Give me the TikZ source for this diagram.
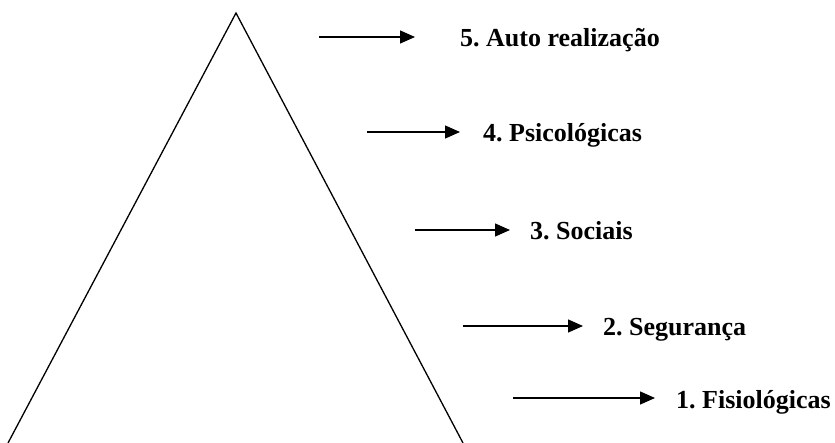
\documentclass[tikz,border=0pt]{standalone}
\usepackage{fontspec}
\setmainfont{Liberation Serif}
\usepackage{tikz}
\usetikzlibrary{arrows.meta,positioning}

\begin{document}
\frenchspacing
\begin{tikzpicture}[
    x=1pt, y=-1pt,
    level/.style={font=\fontsize{26}{30}\selectfont\bfseries, inner sep=0pt, anchor=base west},
    arr/.style={-{Triangle[length=15pt,width=13pt]}, line width=1.3pt},
    pyr/.style={line width=1.3pt, line join=miter}
  ]
    \useasboundingbox (0,0) rectangle (835,443);

    % pyramid
    \coordinate (top) at (236,13);
    \coordinate (bl) at (8,443);
    \coordinate (br) at (463,443);
    \draw[pyr] (bl) -- (top) -- (br);

    % levels
    \node[level] (l5) at (460,47) {5. Auto realização};
    \node[level] (l4) at (483,142) {4. Psicológicas};
    \node[level] (l3) at (530,240) {3. Sociais};
    \node[level] (l2) at (603,336) {2. Segurança};
    \node[level] (l1) at (676,408) {1. Fisiológicas};

    \coordinate (a5) at (319,37);  \coordinate (b5) at (415,37);
    \coordinate (a4) at (367,132); \coordinate (b4) at (460,132);
    \coordinate (a3) at (415,230); \coordinate (b3) at (510,230);
    \coordinate (a2) at (463,326); \coordinate (b2) at (583,326);
    \coordinate (a1) at (513,398); \coordinate (b1) at (655,398);

    \foreach \i in {1,...,5}
      \draw[arr] (a\i) -- (b\i);
\end{tikzpicture}
\end{document}
